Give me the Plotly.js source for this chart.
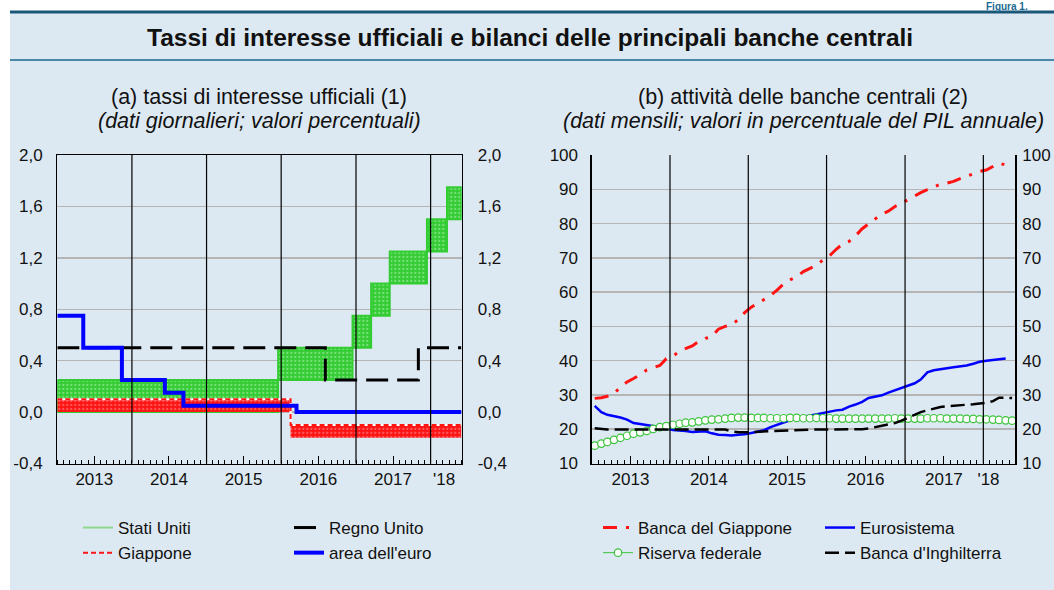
<!DOCTYPE html>
<html><head><meta charset="utf-8">
<script src="https://cdn.plot.ly/plotly-3.0.1.min.js"></script>
<style>html,body{margin:0;padding:0;background:#fff}#chart{width:1054px;height:590px}</style>
</head><body><div id="chart"></div>
<script>
// ---------- Panel (a): official interest rates (step changes) ----------
const usDates = ['2013-01-01','2015-12-17','2016-12-15','2017-03-16','2017-06-15','2017-12-14','2018-03-22'];
const usLower = [0.00, 0.25, 0.50, 0.75, 1.00, 1.25, 1.50];
const usUpper = [0.25, 0.50, 0.75, 1.00, 1.25, 1.50, 1.75];
const jpDates = ['2013-01-01','2016-02-16'];
const jpUpper = [0.10, -0.10];
const jpLower = [0.00, -0.20];
const ukDates = ['2013-01-01','2016-08-04','2017-11-02'];
const ukRate  = [0.50, 0.25, 0.50];
const euDates = ['2013-01-01','2013-05-08','2013-11-13','2014-06-11','2014-09-10','2016-03-16'];
const euRate  = [0.75, 0.50, 0.25, 0.15, 0.05, 0.00];
const rateEnd = '2018-05-31';
const rateTickVals = [-0.4, 0, 0.4, 0.8, 1.2, 1.6, 2.0];
const rateTickText = ['-0,4','0,0','0,4','0,8','1,2','1,6','2,0'];

// ---------- Panel (b): central bank assets, % of annual GDP (monthly, Jan 2013 ->) ----------
const bojAssets = [29.0,29.2,29.6,30.4,32.3,33.8,34.8,35.9,37.3,37.9,38.6,40.6,
                   41.3,42.8,43.6,44.3,45.6,46.5,47.0,49.2,50.0,50.4,52.0,54.0,
                   55.6,56.8,58.0,59.0,60.6,62.4,63.6,64.5,66.0,66.8,67.8,69.4,
                   70.6,72.5,74.0,74.8,76.4,78.5,79.9,81.5,82.8,83.6,85.0,85.9,
                   87.0,88.0,89.0,89.9,90.8,91.5,91.8,92.3,93.1,93.8,94.6,95.2,
                   95.6,96.6,97.6,97.1];
const eurAssets = [26.8,25.0,24.2,23.9,23.4,22.8,21.8,21.5,21.2,21.0,20.7,20.3,
                   19.8,19.7,19.5,19.2,19.3,19.4,18.8,18.4,18.3,18.2,18.4,18.5,
                   18.9,19.3,19.7,20.6,21.3,22.0,22.6,23.2,23.6,23.8,24.2,24.6,
                   25.2,25.5,25.7,26.6,27.2,28.0,29.1,29.4,29.9,30.7,31.4,32.0,
                   32.7,33.4,34.5,36.6,37.2,37.6,37.8,38.1,38.3,38.6,39.1,39.7,
                   40.0,40.2,40.4,40.6];
const fedAssets = [15.2,15.8,16.3,16.9,17.5,18.1,18.7,19.1,19.5,20.1,20.6,20.9,
                   21.3,21.6,21.9,22.0,22.3,22.6,22.8,22.9,23.1,23.3,23.4,23.4,
                   23.3,23.3,23.3,23.2,23.2,23.2,23.3,23.3,23.2,23.2,23.3,23.2,
                   23.2,23.1,23.1,23.1,23.1,23.1,23.1,23.1,23.1,23.1,23.2,23.1,
                   23.1,23.1,23.1,23.2,23.2,23.2,23.1,23.1,23.1,23.0,23.0,22.9,
                   22.9,22.8,22.7,22.6,22.5];
const boeAssets = [20.3,20.0,19.9,19.9,19.9,19.9,19.9,19.9,19.9,19.9,19.9,19.9,
                   19.9,19.9,19.9,19.9,19.9,19.9,19.9,19.9,19.9,19.4,19.1,19.1,
                   19.2,19.3,19.4,19.5,19.6,19.7,19.8,19.9,19.9,19.9,19.9,19.9,
                   19.9,19.9,19.9,19.9,19.9,20.0,20.2,20.5,21.0,21.4,21.8,22.5,
                   23.4,24.3,25.0,25.5,26.1,26.5,26.7,26.8,27.0,27.1,27.3,27.5,
                   27.7,28.2,29.2,29.2,29.1];

// ---------- Axis labels ----------
const yearLabels = ['2013','2014','2015','2016','2017',"'18"];
const labelPosA  = ['2013-07-01','2014-07-01','2015-07-01','2016-07-01','2017-07-01','2018-03-08'];
const labelPosB  = ['2013-07-01','2014-07-01','2015-07-01','2016-07-01','2017-07-01','2018-01-25'];
const midYears   = ['2013-07-01','2014-07-01','2015-07-01','2016-07-01','2017-07-01'];
const yearStarts = ['2014-01-01','2015-01-01','2016-01-01','2017-01-01','2018-01-01'];

// monthly x positions (mid-month)
function monthDates(n){ const out=[]; for(let i=0;i<n;i++){ const y=2013+Math.floor(i/12), m=(i%12)+1; out.push(y+'-'+String(m).padStart(2,'0')+'-15'); } return out; }
function stepX(d){ return d.concat([rateEnd]); }
function stepY(v){ return v.concat([v[v.length-1]]); }
// closed outline of a band between two step series
function stepPath(d, v){ const xs=[], ys=[]; for(let i=0;i<d.length;i++){ xs.push(d[i]); ys.push(v[i]); xs.push(i<d.length-1?d[i+1]:rateEnd); ys.push(v[i]); } return {xs, ys}; }
function bandPoly(d, lo, hi){ const u=stepPath(d,hi), l=stepPath(d,lo);
  return {x:u.xs.concat(l.xs.slice().reverse(), [u.xs[0]]), y:u.ys.concat(l.ys.slice().reverse(), [u.ys[0]])}; }

const W=1054, H=590;
const px=v=>v/W, py=v=>1-v/H;
const FONT='Liberation Sans, Arial, Helvetica, sans-serif';
const TXT='#111';
const xDomA=[px(57.3),px(461.7)], xDomB=[px(591.7),px(1015.3)], yDom=[py(463.5),py(155)];
const rangeA=['2013-01-01','2018-06-02'], rangeB=['2013-01-01','2018-05-30'];

const green='#33cc33', red='#ff1414';
const usBand = bandPoly(usDates, usLower, usUpper);
const jpBand = bandPoly(jpDates, jpLower, jpUpper);

const traces = [
  // US band
  {x:usBand.x, y:usBand.y, mode:'lines', line:{color:green, width:2}, fill:'toself', fillcolor:green,
   fillpattern:{shape:'.', bgcolor:green, fgcolor:'#d6f5d6', fgopacity:0.45, size:4, solidity:0.25}, showlegend:false, legend:'legend5', hoverinfo:'skip', xaxis:'x', yaxis:'y'},
  // Japan band
  {x:jpBand.x, y:jpBand.y, mode:'lines', line:{color:red, width:0}, fill:'toself', fillcolor:red,
   fillpattern:{shape:'.', bgcolor:red, fgcolor:'#ffb0b0', fgopacity:0.45, size:4, solidity:0.25}, showlegend:false, legend:'legend5', hoverinfo:'skip', xaxis:'x', yaxis:'y'},
  {x:stepX(jpDates), y:stepY(jpUpper), mode:'lines', line:{shape:'hv', color:'#ffffff', width:2}, showlegend:false, legend:'legend5', hoverinfo:'skip', xaxis:'x', yaxis:'y'},
  {x:stepX(jpDates), y:stepY(jpUpper), mode:'lines', name:'Giappone', line:{shape:'hv', color:red, width:2, dash:'5px,3px'}, legend:'legend', legendrank:2, xaxis:'x', yaxis:'y'},
  // UK
  {x:stepX(ukDates), y:stepY(ukRate), mode:'lines', name:'Regno Unito', line:{shape:'hv', color:'#000', width:3, dash:'22px,9px'}, legend:'legend2', legendrank:1, xaxis:'x', yaxis:'y'},
  // Euro area
  {x:stepX(euDates), y:stepY(euRate), mode:'lines', name:"area dell'euro", line:{shape:'hv', color:'#0000ff', width:4}, legend:'legend2', legendrank:2, xaxis:'x3', yaxis:'y2'},
  // legend entry for the US rate band (no marks drawn)
  {x:[null], y:[null], mode:'lines', name:'Stati Uniti', line:{color:'#8fd98f', width:2}, legend:'legend', legendrank:1, xaxis:'x3', yaxis:'y2'},

  // Panel (b)
  {x:monthDates(bojAssets.length), y:bojAssets, mode:'lines', name:'Banca del Giappone', line:{color:red, width:3, dash:'14px,9px,3px,9px'}, legend:'legend3', legendrank:1, xaxis:'x2', yaxis:'y3'},
  {x:monthDates(eurAssets.length), y:eurAssets, mode:'lines', name:'Eurosistema', line:{color:'#0000ff', width:2.5}, legend:'legend4', legendrank:1, xaxis:'x2', yaxis:'y3'},
  {x:monthDates(fedAssets.length), y:fedAssets, mode:'lines+markers', name:'Riserva federale', line:{color:'#3dc43d', width:1}, marker:{symbol:'circle', size:7.5, color:'#ffffff', line:{color:'#3dc43d', width:1.2}}, legend:'legend3', legendrank:2, xaxis:'x2', yaxis:'y3'},
  {x:monthDates(boeAssets.length), y:boeAssets, mode:'lines', name:"Banca d'Inghilterra", line:{color:'#000', width:2.5, dash:'14px,6px'}, legend:'legend4', legendrank:2, xaxis:'x4', yaxis:'y4'}
];

function mainX(dom, anchor, range, labelPos){
  return {domain:dom, anchor:anchor, type:'date', range:range, tickmode:'array', tickvals:labelPos, ticktext:yearLabels,
    ticks:'', showgrid:false, zeroline:false, showline:true, linecolor:'#000', linewidth:1.3,
    tickfont:{size:17, color:TXT, family:FONT}, ticklabelstandoff:0,
    minor:{tickmode:'linear', tick0:'2013-01-01', dtick:'M1', ticks:'inside', ticklen:4, tickwidth:1, tickcolor:'#000', showgrid:false}};
}
function overX(over, anchor, range){
  return {overlaying:over, anchor:anchor, side:'bottom', type:'date', range:range, tickmode:'array', tickvals:midYears,
    ticks:'inside', ticklen:8, tickwidth:1, tickcolor:'#000', showticklabels:false, showgrid:false, showline:false, zeroline:false};
}

const xa = mainX(xDomA,'y',rangeA,labelPosA); xa.mirror=true;
const xb = mainX(xDomB,'y3',rangeB,labelPosB); xb.mirror=false;

const shapes = [
  {type:'rect', xref:'paper', yref:'paper', x0:px(10), x1:1, y0:0, y1:py(12), fillcolor:'#dde9f2', line:{width:0}, layer:'below'},
  {type:'line', xref:'paper', yref:'paper', x0:px(10), x1:1, y0:py(12), y1:py(12), line:{color:'#1a5678', width:3}},
  {type:'line', xref:'paper', yref:'paper', x0:px(10), x1:1, y0:py(60), y1:py(60), line:{color:'#4b87a6', width:2}}
];
yearStarts.forEach(d=>{
  shapes.push({type:'line', xref:'x', yref:'y domain', x0:d, x1:d, y0:0, y1:1, line:{color:'#000', width:1.2}, layer:'above'});
  shapes.push({type:'line', xref:'x2', yref:'y3 domain', x0:d, x1:d, y0:0, y1:1, line:{color:'#000', width:1.2}, layer:'above'});
});

function leg(x){ return {x:px(x), y:py(510), xanchor:'left', yanchor:'top', bgcolor:'rgba(0,0,0,0)', borderwidth:0,
  font:{size:17, family:FONT, color:TXT}, itemwidth:30, orientation:'v', traceorder:'normal', tracegroupgap:0,
  itemclick:false, itemdoubleclick:false}; }

const ann = (t, x, y, size, extra) => Object.assign({text:t, xref:'paper', yref:'paper', x:px(x), y:py(y), xanchor:'center', yanchor:'middle',
  showarrow:false, font:{size:size, family:FONT, color:TXT}}, extra||{});

const layout = {
  width:W, height:H, margin:{l:0,r:0,t:0,b:0}, paper_bgcolor:'#ffffff', plot_bgcolor:'#ffffff',
  font:{family:FONT, color:TXT}, separators:',.', hovermode:false,
  xaxis:xa, xaxis3:overX('x','y',rangeA),
  yaxis:{domain:yDom, anchor:'x', range:[-0.4,2.0], tickmode:'array', tickvals:rateTickVals, ticktext:rateTickText, ticks:'',
    showgrid:true, gridcolor:'#b5b5b5', gridwidth:1.5, showline:true, mirror:true, linecolor:'#000', linewidth:1.3, zeroline:false,
    tickfont:{size:17, color:TXT}, ticklabelstandoff:10},
  yaxis2:{overlaying:'y', side:'right', anchor:'x', range:[-0.4,2.0], tickmode:'array', tickvals:rateTickVals, ticktext:rateTickText, ticks:'',
    showgrid:false, showline:false, zeroline:false, tickfont:{size:17, color:TXT}, ticklabelstandoff:15},
  xaxis2:xb, xaxis4:overX('x2','y3',rangeB),
  yaxis3:{domain:yDom, anchor:'x2', range:[10,100], tick0:10, dtick:10, ticks:'', showgrid:true, gridcolor:'#b5b5b5', gridwidth:1.5,
    showline:true, mirror:true, linecolor:'#000', linewidth:1.3, zeroline:false, tickfont:{size:17, color:TXT}, ticklabelstandoff:9},
  yaxis4:{overlaying:'y3', side:'right', anchor:'x2', range:[10,100], tick0:10, dtick:10, ticks:'', showgrid:false, showline:false, zeroline:false,
    tickfont:{size:17, color:TXT}, ticklabelstandoff:6},
  legend:leg(78), legend2:leg(289), legend3:leg(598), legend4:leg(820), legend5:{visible:false},
  shapes:shapes,
  annotations:[
    ann('<b>Tassi di interesse ufficiali e bilanci delle principali banche centrali</b>', 530, 37, 24.5),
    ann('(a) tassi di interesse ufficiali (1)', 259, 97, 21.5),
    ann('<i>(dati giornalieri; valori percentuali)</i>', 259, 121, 21.5),
    ann('(b) attività delle banche centrali (2)', 803, 97, 21.5),
    ann('<i>(dati mensili; valori in percentuale del PIL annuale)</i>', 803, 121, 21.5),
    ann('<b>Figura 1.</b>', 985, 0, 10, {xanchor:'left', yanchor:'top', borderpad:0, font:{size:10, family:FONT, color:'#1d6a92'}})
  ]
};

Plotly.newPlot('chart', traces, layout, {displayModeBar:false, staticPlot:true});
</script>
</body></html>
